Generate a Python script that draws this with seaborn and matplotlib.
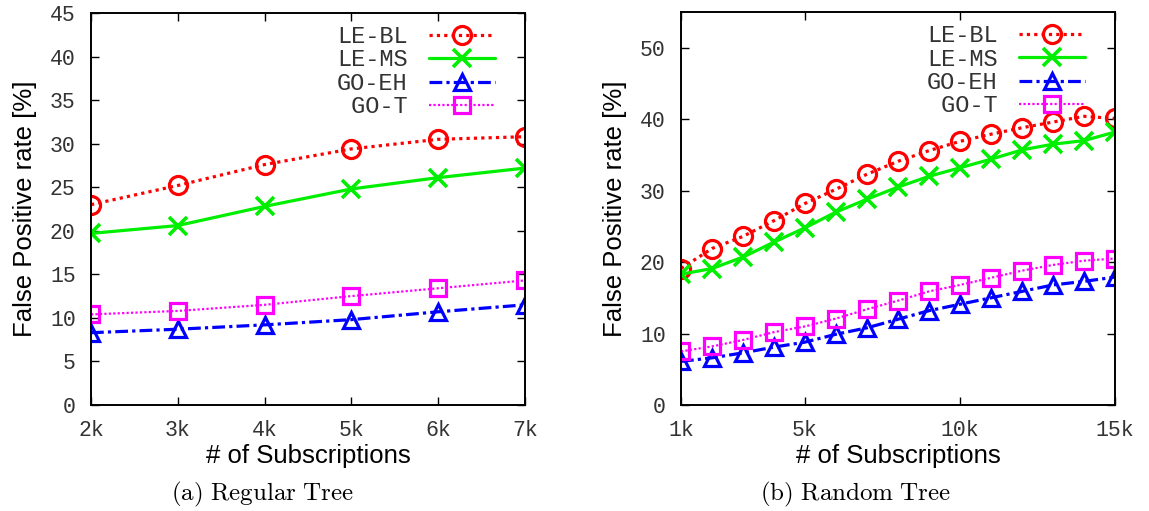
import matplotlib
matplotlib.use("Agg")
import matplotlib.pyplot as plt
import seaborn as sns
import pandas as pd

# Regular tree: subscriptions (thousands) vs false positive rate (%)
reg_x = [2, 3, 4, 5, 6, 7]
reg_le_bl = [23.0, 25.2, 27.6, 29.4, 30.5, 30.8]
reg_le_ms = [19.7, 20.6, 22.8, 24.8, 26.1, 27.2]
reg_go_eh = [8.3, 8.7, 9.2, 9.8, 10.7, 11.5]
reg_go_t = [10.4, 10.8, 11.5, 12.5, 13.4, 14.3]

# Random tree
rnd_x = [1, 2, 3, 4, 5, 6, 7, 8, 9, 10, 11, 12, 13, 14, 15]
rnd_le_bl = [19.1, 21.9, 23.6, 25.8, 28.2, 30.2, 32.3, 34.1, 35.6, 36.9, 37.9, 38.8, 39.6, 40.4, 40.1]
rnd_le_ms = [18.3, 19.1, 20.7, 22.8, 24.8, 27.0, 28.8, 30.5, 32.0, 33.2, 34.4, 35.7, 36.5, 37.0, 38.2]
rnd_go_eh = [6.1, 6.6, 7.3, 8.1, 8.8, 9.9, 10.8, 12.0, 13.2, 14.1, 15.0, 15.9, 16.8, 17.3, 17.9]
rnd_go_t = [7.5, 8.2, 9.1, 10.2, 11.0, 12.1, 13.4, 14.6, 15.9, 16.8, 17.8, 18.8, 19.6, 20.2, 20.5]

reg_xticks = [2, 3, 4, 5, 6, 7]
reg_xticklabels = ["2k", "3k", "4k", "5k", "6k", "7k"]
rnd_xticks = [1, 5, 10, 15]
rnd_xticklabels = ["1k", "5k", "10k", "15k"]

series_names = ["LE-BL", "LE-MS", "GO-EH", " GO-T"]
series_colors = ["#ff0000", "#00ee00", "#0000ff", "#ff00ff"]

sns.set_theme(style="white")
plt.rcParams["font.family"] = ["Liberation Sans", "DejaVu Sans"]
plt.rcParams["mathtext.fontset"] = "cm"

# per-series line and marker styling, applied to the seaborn lines afterwards
styles = [
    dict(linestyle=(0, (1, 1.3)), linewidth=2.3, marker="o",
         markersize=13, markerfacecolor="none", markeredgewidth=2.3),
    dict(linestyle="-", linewidth=2.3, marker="x",
         markersize=13, markeredgewidth=2.6),
    dict(linestyle=(0, (4, 1.3, 1, 1.3)), linewidth=2.3, marker="^",
         markersize=12, markerfacecolor="none", markeredgewidth=2.3),
    dict(linestyle=(0, (1, 1)), linewidth=1.6, marker="s",
         markersize=12, markerfacecolor="none", markeredgewidth=2.3),
]

fig = plt.figure(figsize=(11.49, 5.11), dpi=100)
ax_reg = fig.add_axes([91 / 1149, 106 / 511, 434 / 1149, 392 / 511])
ax_rnd = fig.add_axes([681 / 1149, 106 / 511, 434 / 1149, 393 / 511])


def draw(ax, x, ys, xticks, xticklabels, ylim, yticks, caption, cap_x):
    handles = []
    for name, y, col, st in zip(series_names, ys, series_colors, styles):
        df = pd.DataFrame({"subs": x, "fp": y})
        sns.lineplot(data=df, x="subs", y="fp", ax=ax, color=col)
        line = ax.lines[-1]
        line.set(color=col, markeredgecolor=col, **st)
        line.set_label(name)
        handles.append(line)
    ax.set_xlim(x[0], x[-1])
    ax.set_ylim(*ylim)
    ax.set_xticks(xticks)
    ax.set_xticklabels(xticklabels)
    ax.set_yticks(yticks)
    ax.set_yticklabels([str(v) for v in yticks])
    for lab in ax.get_xticklabels() + ax.get_yticklabels():
        lab.set_fontfamily("Liberation Mono")
        lab.set_fontsize(15.5)
        lab.set_color("#333333")
    ax.tick_params(direction="in", length=5.5, width=1.0, color="black",
                   top=True, right=True, bottom=True, left=True, pad=11)
    for sp in ax.spines.values():
        sp.set_visible(True)
        sp.set_color("black")
        sp.set_linewidth(1.4)
    ax.set_xlabel("# of Subscriptions", fontsize=18.5, color="black", labelpad=2)
    ax.set_ylabel("False Positive rate [%]", fontsize=18.5, color="black", labelpad=9)
    leg = ax.legend(handles=handles, loc="upper right", frameon=False, markerfirst=False,
                    numpoints=1, handlelength=2.8, handletextpad=0.9,
                    labelspacing=0.02, borderaxespad=0, borderpad=0,
                    bbox_to_anchor=(1 - 30 / 434, 1 - 12 / 392),
                    prop={"family": "Liberation Mono", "size": 17})
    for t in leg.get_texts():
        t.set_color("#333333")
    ax.text(cap_x, -0.227, caption, transform=ax.transAxes, ha="center", va="center",
            fontsize=18, color="black")


draw(ax_reg, reg_x, [reg_le_bl, reg_le_ms, reg_go_eh, reg_go_t],
     reg_xticks, reg_xticklabels, (0, 45), list(range(0, 46, 5)),
     r"$\mathrm{(a)\ Regular\ Tree}$", 0.394)
draw(ax_rnd, rnd_x, [rnd_le_bl, rnd_le_ms, rnd_go_eh, rnd_go_t],
     rnd_xticks, rnd_xticklabels, (0, 55), list(range(0, 51, 10)),
     r"$\mathrm{(b)\ Random\ Tree}$", 0.403)

fig.savefig("out.png", dpi=100, facecolor="white")
